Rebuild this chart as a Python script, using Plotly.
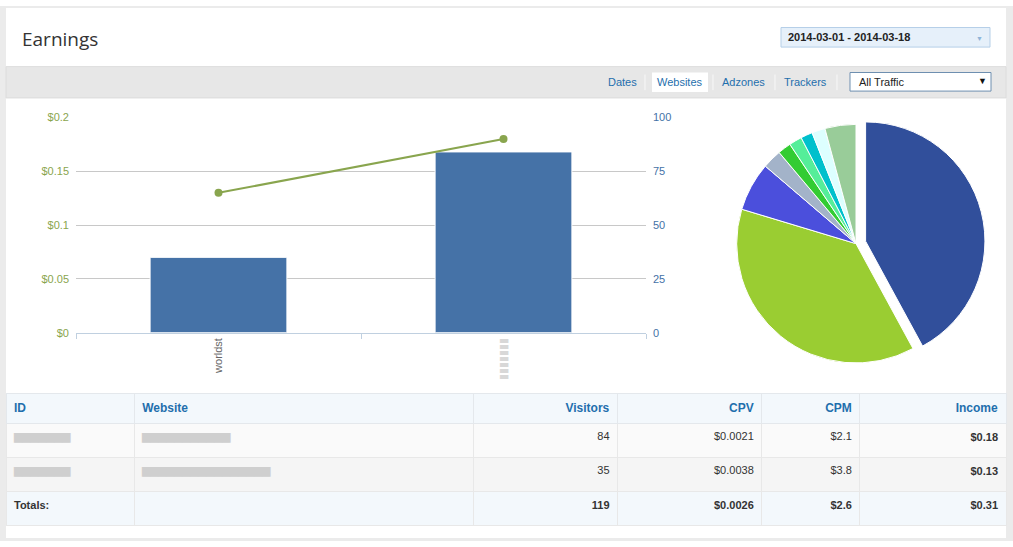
import plotly.graph_objects as go

# chart data
sites = ["worldst", "site2"]
site_labels = ["worldst", "<span style='color:#d8d8d8'>▮▮▮▮▮▮▮</span>"]
earnings = [0.07, 0.168]
visitors_line = [65, 90]

pie_labels = ["s1", "s2", "s3", "s4", "s5", "s6", "s7", "s8", "s9"]
pie_values = [42.1, 37.6, 6.6, 2.6, 1.8, 1.75, 1.6, 1.8, 4.2]
pie_colors = ["#314f9b", "#9acd32", "#4b4fdc", "#a3b3c9", "#33cc33",
              "#55ee99", "#00c0cc", "#ddffff", "#99cc99"]
pie_pull = [0.083, 0, 0, 0, 0, 0, 0, 0, 0]

# table data (ids / websites are blurred in the source)
col_names = ["ID", "Website", "Visitors", "CPV", "CPM", "Income"]
ids = ["▆▆▆▆▆▆▆", "▆▆▆▆▆▆▆", "<b>Totals:</b>"]
websites = ["▆▆▆▆▆▆▆▆▆▆▆", "▆▆▆▆▆▆▆▆▆▆▆▆▆▆▆▆", ""]
visitors = ["84", "35", "<b>119</b>"]
cpv = ["$0.0021", "$0.0038", "<b>$0.0026</b>"]
cpm = ["$2.1", "$3.8", "<b>$2.6</b>"]
income = ["<b>$0.18</b>", "<b>$0.13</b>", "<b>$0.31</b>"]

W, H = 1013, 547


def px_x(x):
    return x / W


def px_y(y):
    return 1 - y / H


FONT = "Liberation Sans, Arial, sans-serif"
BLUR = "#cfcfcf"

fig = go.Figure()

fig.add_trace(go.Bar(
    x=sites, y=earnings, marker=dict(color="#4572A7", line=dict(color="white", width=1)),
    xaxis="x", yaxis="y", showlegend=False))
fig.add_trace(go.Scatter(
    x=sites, y=visitors_line, mode="lines+markers",
    line=dict(color="#89A54E", width=2), marker=dict(color="#89A54E", size=8),
    xaxis="x", yaxis="y2", showlegend=False))

# pie centred at ~(856, 243), radius ~120
r = 122 * (1 + 0.083)
fig.add_trace(go.Pie(
    labels=pie_labels, values=pie_values, sort=False, direction="clockwise",
    rotation=0, pull=pie_pull, textinfo="none", showlegend=False, hoverinfo="none",
    marker=dict(colors=pie_colors, line=dict(color="white", width=1)),
    domain=dict(x=[px_x(856 - r), px_x(856 + r)], y=[px_y(243 + r), px_y(243 - r)])))

# table
hdr_fill = "#f3f8fc"
row_fills = ["#fafafa", "#f5f5f5", hdr_fill]
txt = "#333333"
fig.add_trace(go.Table(
    domain=dict(x=[px_x(6), px_x(1006)], y=[px_y(545), px_y(396)]),
    columnwidth=[128, 339, 144, 144, 98, 146],
    header=dict(values=["<b>%s</b>" % c for c in col_names],
                align=["left", "left", "right", "right", "right", "right"],
                fill_color=hdr_fill, line_color="#e4e8ec", height=28,
                font=dict(family=FONT, size=12, color="#1f6fad")),
    cells=dict(values=[ids, websites, visitors, cpv, cpm, income],
               align=["left", "left", "right", "right", "right", "right"],
               fill_color=[row_fills] * 6, line_color="#e8e8e8", height=34,
               font=dict(family=FONT, size=11,
                         color=[[BLUR, BLUR, txt], [BLUR, BLUR, txt],
                                txt, txt, txt, txt]))))


def rect(x0, x1, y0, y1, fill, line=None, layer="below"):
    return dict(type="rect", xref="paper", yref="paper",
                x0=px_x(x0), x1=px_x(x1), y0=px_y(y1), y1=px_y(y0),
                fillcolor=fill, line=line or dict(width=0), layer=layer)


def vline(x, y0, y1, color):
    return dict(type="line", xref="paper", yref="paper", x0=px_x(x), x1=px_x(x),
                y0=px_y(y1), y1=px_y(y0), line=dict(color=color, width=1))


shapes = [
    # outer gray frame strips
    rect(0, 6, 0, H, "#ebebeb"),
    rect(1006, W, 0, H, "#ebebeb"),
    rect(0, W, 0, 2, "#ebebeb"),
    rect(0, W, 544, H, "#ebebeb"),
    # toolbar band
    rect(6, 1006, 62, 94, "#e7e7e7", dict(color="#dcdcdc", width=1)),
    # active tab
    rect(652, 708, 68, 88, "white"),
    vline(645, 70, 86, "#f8f8f8"),
    vline(713, 70, 86, "#f8f8f8"),
    vline(775, 70, 86, "#f8f8f8"),
    vline(837, 70, 86, "#f8f8f8"),
    # traffic dropdown
    rect(850, 991, 68, 87, "white", dict(color="#6e8fb0", width=1), "above"),
    # date picker
    rect(781, 990, 22, 42, "#e6f0fa", dict(color="#b5cfe8", width=1), "above"),
]

annotations = [
    dict(text="Earnings", x=px_x(20), y=px_y(34), xref="paper", yref="paper",
         xanchor="left", yanchor="middle", showarrow=False,
         font=dict(family="Open Sans, sans-serif", size=19, color="#333333")),
    dict(text="<b>2014-03-01 - 2014-03-18</b>", x=px_x(786), y=px_y(32),
         xref="paper", yref="paper", xanchor="left", yanchor="middle", showarrow=False,
         font=dict(family=FONT, size=11, color="#222222")),
    dict(text="▼", x=px_x(979), y=px_y(33), xref="paper", yref="paper",
         xanchor="center", yanchor="middle",
         showarrow=False, font=dict(size=7, color="#8fb4d8")),
    dict(text="All Traffic", x=px_x(857), y=px_y(78), xref="paper", yref="paper",
         xanchor="left", yanchor="middle", showarrow=False,
         font=dict(family=FONT, size=11, color="#222222")),
    dict(text="▼", x=px_x(982), y=px_y(77), xref="paper", yref="paper",
         xanchor="center", yanchor="middle",
         showarrow=False, font=dict(size=9, color="#111111")),
]
for label, cx in [("Dates", 622), ("Websites", 680), ("Adzones", 743), ("Trackers", 805)]:
    annotations.append(dict(text=label, x=px_x(cx), y=px_y(78), xref="paper", yref="paper",
                            xanchor="center", yanchor="middle", showarrow=False,
                            font=dict(family=FONT, size=11, color="#1f6fad")))

fig.update_layout(
    width=W, height=H, margin=dict(l=0, r=0, t=0, b=0),
    paper_bgcolor="white", plot_bgcolor="white",
    bargap=0.52,
    font=dict(family=FONT),
    shapes=shapes, annotations=annotations,
    xaxis=dict(domain=[px_x(76), px_x(646)], type="category",
               tickvals=sites, ticktext=site_labels, tickangle=-90,
               tickson="boundaries", ticks="outside", ticklen=5, tickcolor="#c0d0e0",
               showline=True, linecolor="#c0d0e0", showgrid=False,
               tickfont=dict(size=11, color="#666666"), anchor="y"),
    yaxis=dict(domain=[px_y(334), px_y(114)], range=[0, 0.2], dtick=0.05,
               tickprefix="$", gridcolor="#c8c8c8", zeroline=False,
               tickfont=dict(size=11, color="#89A54E"), ticklabelstandoff=6),
    yaxis2=dict(overlaying="y", side="right", range=[0, 100], dtick=25,
                showgrid=False, zeroline=False,
                tickfont=dict(size=11, color="#4572A7"), ticklabelstandoff=6),
)

# pin the figure to the top-left corner of the page
pin = ("var gd=document.getElementById('{plot_id}');"
       "document.body.style.margin='0';document.body.style.overflow='hidden';"
       "gd.style.position='fixed';gd.style.left='0px';gd.style.top='0px';")
fig.write_html("out.html", post_script=pin, config={"displayModeBar": False})
